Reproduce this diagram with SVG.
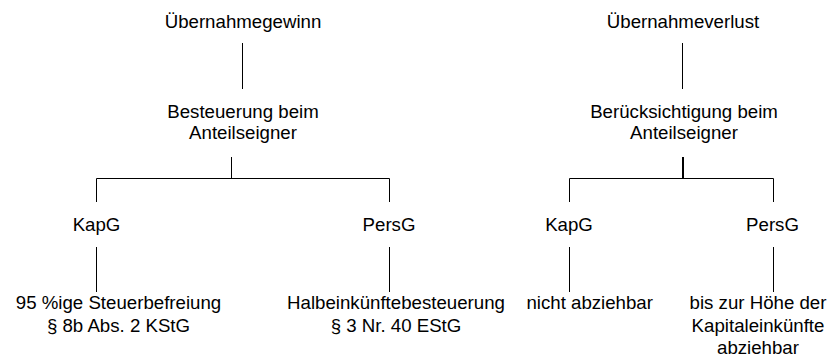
<svg xmlns="http://www.w3.org/2000/svg" width="835" height="360" viewBox="0 0 835 360">
  <style>
    text { font-family: "Liberation Sans", Arial, sans-serif; font-size: 18.67px; fill: #000; text-anchor: middle; }
    .edge { stroke: #000; stroke-width: 1; fill: none; }
    .edge-bold { stroke: #000; stroke-width: 2; fill: none; }
  </style>
  <rect width="835" height="360" fill="#fff"/>

  <g id="connectors">
    <!-- gain branch -->
    <line class="edge" x1="242.5" y1="43" x2="242.5" y2="89"/>
    <line class="edge" x1="231.5" y1="157" x2="231.5" y2="179"/>
    <polyline class="edge" points="96.5,202 96.5,178.5 389.5,178.5 389.5,202"/>
    <line class="edge" x1="96.5" y1="247" x2="96.5" y2="292"/>
    <line class="edge" x1="389.5" y1="247" x2="389.5" y2="292"/>
    <!-- loss branch -->
    <line class="edge" x1="682.5" y1="43" x2="682.5" y2="89"/>
    <line class="edge-bold" x1="683" y1="157" x2="683" y2="179"/>
    <polyline class="edge" points="569.5,202 569.5,178.5 773.5,178.5 773.5,202"/>
    <line class="edge" x1="569.5" y1="247" x2="569.5" y2="292"/>
    <line class="edge" x1="773.5" y1="247" x2="773.5" y2="292"/>
  </g>

  <g id="gain">
    <text x="243" y="27.5">Übernahmegewinn</text>
  </g>
  <g id="gain-taxation">
    <text x="243" y="117.5">Besteuerung beim</text>
    <text x="243" y="139">Anteilseigner</text>
  </g>
  <g id="gain-kapg">
    <text x="96.5" y="230.5">KapG</text>
  </g>
  <g id="gain-persg">
    <text x="389" y="230.5">PersG</text>
  </g>
  <g id="gain-kapg-result">
    <text x="118.5" y="309">95 %ige Steuerbefreiung</text>
    <text x="118.5" y="331.5">§ 8b Abs. 2 KStG</text>
  </g>
  <g id="gain-persg-result">
    <text x="396" y="309">Halbeinkünftebesteuerung</text>
    <text x="396" y="331.5">§ 3 Nr. 40 EStG</text>
  </g>

  <g id="loss">
    <text x="683" y="27.5">Übernahmeverlust</text>
  </g>
  <g id="loss-consideration">
    <text x="684" y="117.5">Berücksichtigung beim</text>
    <text x="684" y="139">Anteilseigner</text>
  </g>
  <g id="loss-kapg">
    <text x="569" y="230.5">KapG</text>
  </g>
  <g id="loss-persg">
    <text x="772.5" y="230.5">PersG</text>
  </g>
  <g id="loss-kapg-result">
    <text x="589.7" y="309">nicht abziehbar</text>
  </g>
  <g id="loss-persg-result">
    <text x="758" y="309">bis zur Höhe der</text>
    <text x="758" y="331.5">Kapitaleinkünfte</text>
    <text x="758" y="354">abziehbar</text>
  </g>
</svg>
